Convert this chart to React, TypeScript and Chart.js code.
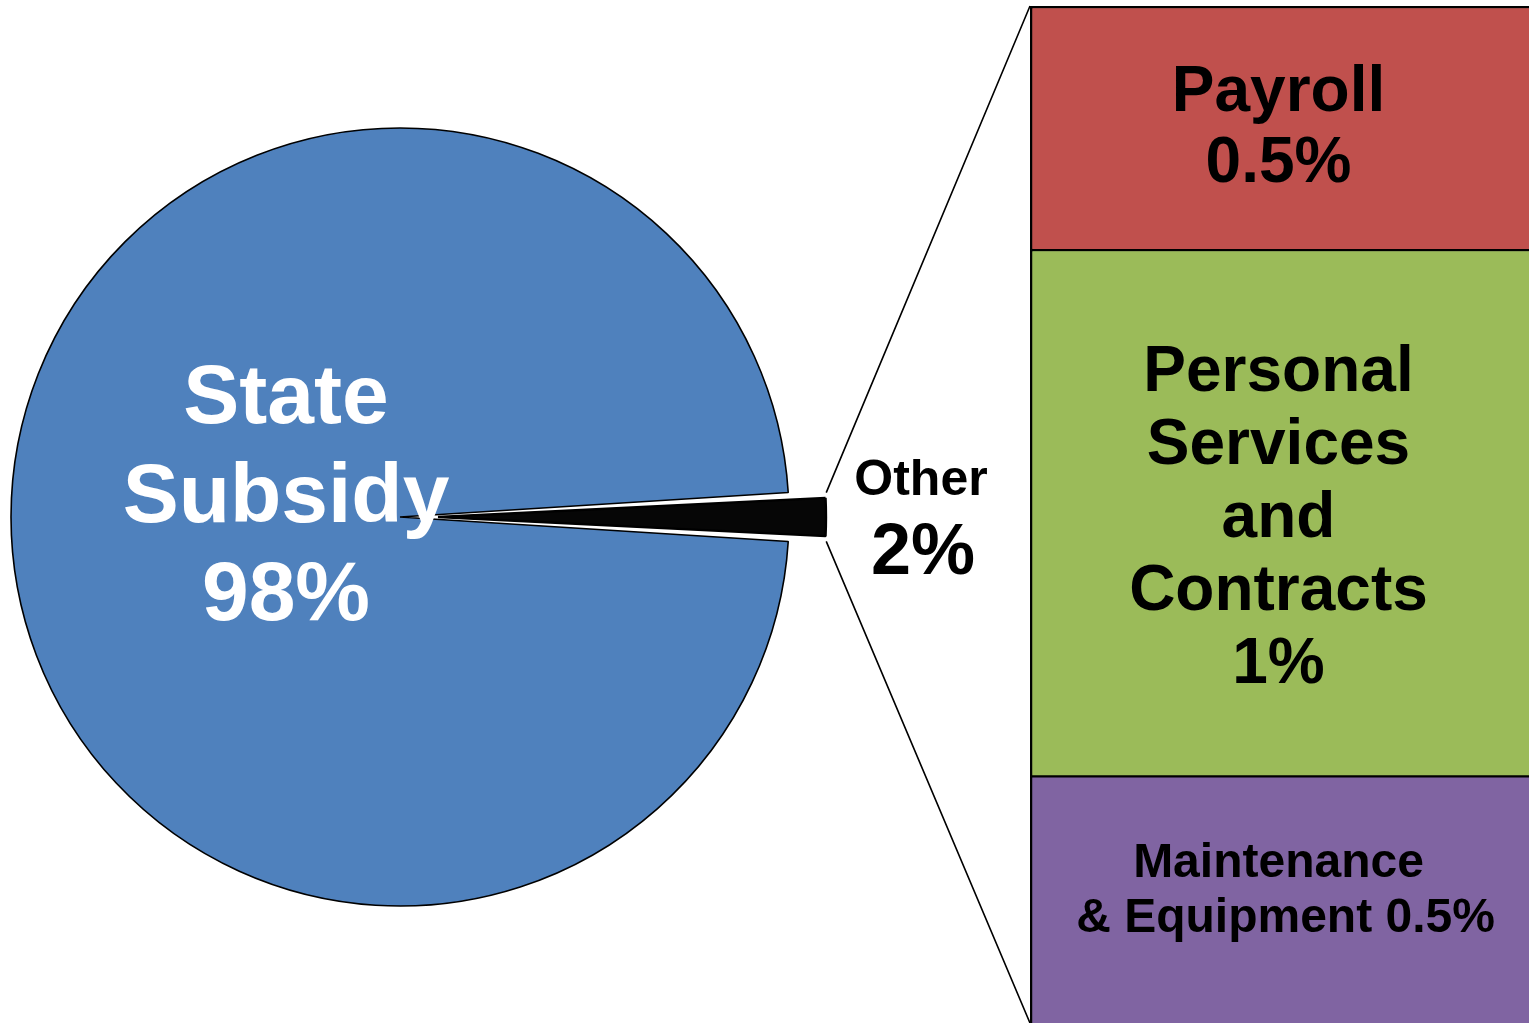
import React, { useEffect, useRef } from "react";
import { Chart, registerables } from "chart.js";

Chart.register(...registerables);

// ---- data ----
const pieCategories = ["State Subsidy", "Other"];
const pieValues = [98, 2];
const pieColors = ["#4F81BD", "#060606"];
const pieTextLines = [["State", "Subsidy", "98%"], ["Other", "2%"]];

// stacked breakdown of "Other" (bottom to top)
const barCategories = ["Maintenance & Equipment", "Personal Services and Contracts", "Payroll"];
const barValues = [0.485, 1.035, 0.48];
const barColors = ["#8064A2", "#9BBB59", "#C0504D"];
const barTextLines = [
  ["Maintenance", "& Equipment 0.5%"],
  ["Personal", "Services", "and", "Contracts", "1%"],
  ["Payroll", "0.5%"],
];

const W = 1529;
const H = 1023;
const FONT = '"Liberation Sans", Arial, Helvetica, sans-serif';
const PIE_R = 389;
const EXPLODE = 38; // px the "Other" slice is pulled out

export default function App() {
  const pieRef = useRef<HTMLCanvasElement>(null);
  const barRef = useRef<HTMLCanvasElement>(null);

  useEffect(() => {
    document.body.style.margin = "0";
    const arcOffset = EXPLODE * 4;

    const pieFix = {
      id: "pieFix",
      afterDatasetsUpdate(chart: any) {
        const meta = chart.getDatasetMeta(0);
        const el = meta.data[1];
        if (!el) return;
        const circ = el.endAngle - el.startAngle;
        const fix = 1 - Math.sin(Math.min(Math.PI, circ));
        el.outerRadius = PIE_R - 1 - (arcOffset / 4) * fix;
      },
      afterDatasetsDraw(chart: any) {
        const ctx = chart.ctx;
        const el = chart.getDatasetMeta(0).data[0];
        const cx = el.x;
        const cy = el.y;
        ctx.save();
        ctx.textAlign = "center";
        ctx.textBaseline = "alphabetic";
        ctx.fillStyle = "#ffffff";
        ctx.font = `bold 84px ${FONT}`;
        const sb = [-94, 5, 103];
        pieTextLines[0].forEach((t, i) => ctx.fillText(t, cx - 114, cy + sb[i]));
        ctx.fillStyle = "#000000";
        ctx.font = `bold 50px ${FONT}`;
        ctx.fillText(pieTextLines[1][0], cx + 521, cy - 22);
        ctx.font = `bold 72px ${FONT}`;
        ctx.fillText(pieTextLines[1][1], cx + 523, cy + 57);
        ctx.restore();
      },
    };

    const pie = new Chart(pieRef.current!, {
      type: "pie",
      data: {
        labels: pieCategories,
        datasets: [
          {
            data: pieValues,
            backgroundColor: pieColors,
            borderColor: "#000000",
            borderWidth: [1.6, 2.4],
            offset: [0, arcOffset],
            clip: false,
          } as any,
        ],
      },
      options: {
        responsive: false,
        animation: false,
        rotation: 90 + (pieValues[1] / 100) * 180,
        radius: PIE_R,
        layout: { padding: { left: 0, top: 11, right: W - 800, bottom: 0 } },
        plugins: { legend: { display: false }, tooltip: { enabled: false } },
        events: [],
      } as any,
      plugins: [pieFix],
    });

    const total = barValues.reduce((a, b) => a + b, 0);
    const barDeco = {
      id: "barDeco",
      afterDatasetsDraw(chart: any) {
        const ctx = chart.ctx;
        // connector lines from exploded slice to the stacked bar
        const arc: any = pie.getDatasetMeta(0).data[1];
        const half = (arc.startAngle + arc.endAngle) / 2;
        const off = arcOffset / 4;
        const fix = 1 - Math.sin(Math.min(Math.PI, arc.endAngle - arc.startAngle));
        const ax = arc.x + Math.cos(half) * off;
        const ay = arc.y + Math.sin(half) * off;
        const r = arc.outerRadius + 1 + off * fix;
        const p1 = [ax + Math.cos(arc.startAngle) * r, ay + Math.sin(arc.startAngle) * r];
        const p2 = [ax + Math.cos(arc.endAngle) * r, ay + Math.sin(arc.endAngle) * r];
        const topEl: any = chart.getDatasetMeta(barValues.length - 1).data[0];
        const botEl: any = chart.getDatasetMeta(0).data[0];
        const left = topEl.x - topEl.width / 2;
        ctx.save();
        ctx.strokeStyle = "#000000";
        ctx.lineWidth = 1.6;
        ctx.beginPath();
        ctx.moveTo(p1[0], p1[1]);
        ctx.lineTo(left, topEl.y);
        ctx.moveTo(p2[0], p2[1]);
        ctx.lineTo(left, botEl.base);
        ctx.stroke();

        // labels inside the segments
        const cfg = [
          { size: 48, off: -23, lh: 55, dx: [0, 7] },
          { size: 64, off: -122, lh: 73, dx: [0, 0, 0, 0, 0] },
          { size: 64, off: -17, lh: 71, dx: [0, 0] },
        ];
        ctx.textAlign = "center";
        ctx.textBaseline = "alphabetic";
        ctx.fillStyle = "#000000";
        barTextLines.forEach((lines, i) => {
          const el: any = chart.getDatasetMeta(i).data[0];
          const c = cfg[i];
          const midY = (el.y + el.base) / 2;
          ctx.font = `bold ${c.size}px ${FONT}`;
          lines.forEach((t, j) => ctx.fillText(t, el.x - 1 + c.dx[j], midY + c.off + j * c.lh));
        });
        ctx.restore();
      },
    };

    const bar = new Chart(barRef.current!, {
      type: "bar",
      data: {
        labels: ["Other"],
        datasets: barCategories.map((name, i) => ({
          label: name,
          data: [barValues[i]],
          backgroundColor: barColors[i],
          borderColor: "#000000",
          borderWidth: {
            top: i === barValues.length - 1 ? 2.5 : 1.4,
            bottom: i === 0 ? 0 : 1.4,
            left: 2.6,
            right: 0,
          },
          borderSkipped: false,
          barPercentage: 1,
          categoryPercentage: 1,
        })),
      },
      options: {
        responsive: false,
        animation: false,
        layout: { padding: { left: 1030, top: 6, right: 0, bottom: 0 } },
        scales: {
          x: { stacked: true, display: false },
          y: { stacked: true, display: false, min: 0, max: total },
        },
        plugins: { legend: { display: false }, tooltip: { enabled: false } },
        events: [],
      } as any,
      plugins: [barDeco],
    });

    return () => {
      bar.destroy();
      pie.destroy();
    };
  }, []);

  return (
    <div
      style={{
        position: "relative",
        width: W,
        height: H,
        overflow: "hidden",
        background: "#ffffff",
      }}
    >
      <canvas ref={pieRef} width={W} height={H} style={{ position: "absolute", left: 0, top: 0 }} />
      <canvas ref={barRef} width={W} height={H} style={{ position: "absolute", left: 0, top: 0 }} />
    </div>
  );
}
